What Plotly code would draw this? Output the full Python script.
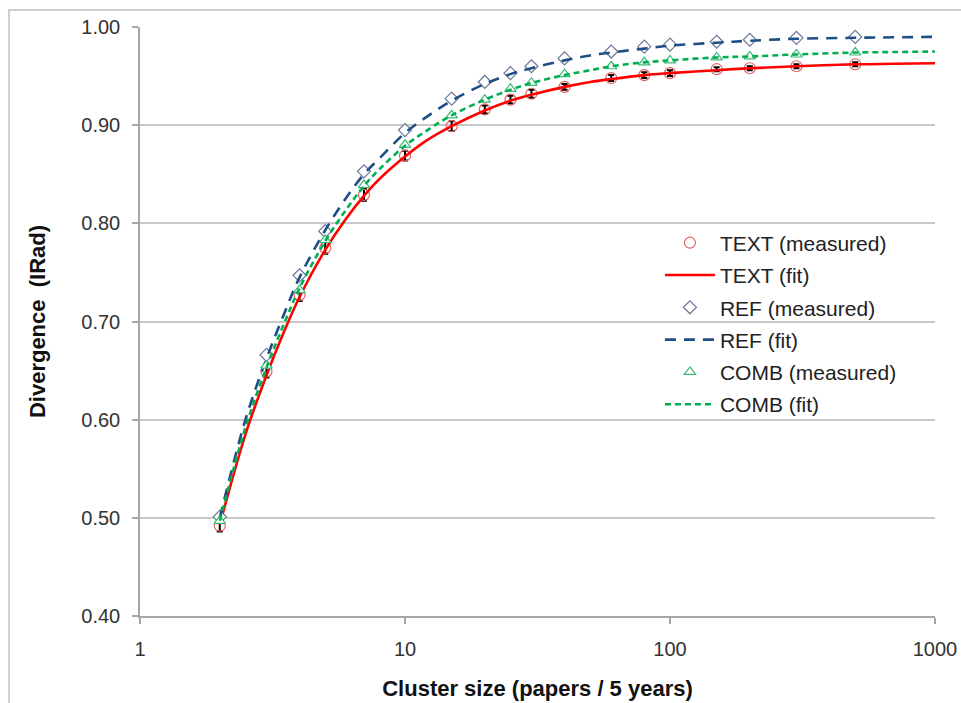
import plotly.graph_objects as go

# ---- data ----
x_measured = [2, 3, 4, 5, 7, 10, 15, 20, 25, 30, 40, 60, 80, 100, 150, 200, 300, 500]
text_measured = [0.492, 0.649, 0.727, 0.775, 0.829, 0.869, 0.899, 0.916, 0.926, 0.932,
                 0.939, 0.948, 0.951, 0.953, 0.957, 0.958, 0.960, 0.962]
text_error = [0.006, 0.006, 0.006, 0.006, 0.006, 0.005, 0.005, 0.004, 0.004, 0.004,
              0.003, 0.003, 0.003, 0.003, 0.002, 0.002, 0.002, 0.002]
ref_measured = [0.501, 0.666, 0.747, 0.792, 0.853, 0.895, 0.927, 0.944, 0.953, 0.960,
                0.968, 0.975, 0.980, 0.982, 0.985, 0.987, 0.989, 0.990]
comb_measured = [0.497, 0.655, 0.732, 0.783, 0.839, 0.880, 0.910, 0.926, 0.937, 0.943,
                 0.952, 0.960, 0.964, 0.966, 0.969, 0.970, 0.972, 0.974]

x_fit = [2, 2.5, 3, 3.5, 4, 5, 6, 7, 8, 10, 12, 15, 20, 25, 30, 40, 50, 60, 80, 100,
         150, 200, 300, 500, 700, 1000]
text_fit = [0.493, 0.585, 0.645, 0.690, 0.725, 0.773, 0.805, 0.828, 0.845, 0.868, 0.884,
            0.899, 0.915, 0.925, 0.931, 0.939, 0.944, 0.947, 0.951, 0.953, 0.956, 0.958,
            0.960, 0.962, 0.9625, 0.963]
ref_fit = [0.500, 0.600, 0.662, 0.708, 0.745, 0.793, 0.826, 0.850, 0.866, 0.892, 0.908,
           0.925, 0.942, 0.952, 0.958, 0.966, 0.971, 0.974, 0.978, 0.981, 0.984, 0.986,
           0.988, 0.989, 0.9895, 0.990]
comb_fit = [0.497, 0.592, 0.653, 0.698, 0.734, 0.782, 0.814, 0.838, 0.855, 0.879, 0.894,
            0.910, 0.926, 0.936, 0.943, 0.951, 0.956, 0.960, 0.964, 0.966, 0.969, 0.970,
            0.972, 0.974, 0.9745, 0.975]

y_ticks = [0.40, 0.50, 0.60, 0.70, 0.80, 0.90, 1.00]
x_ticks = [1, 10, 100, 1000]

FONT = "Liberation Sans, Arial, sans-serif"

fig = go.Figure()

fig.add_trace(go.Scatter(
    x=x_measured, y=text_measured, mode="markers", name="TEXT (measured)",
    legendgroup="a",
    marker=dict(symbol="circle-open", size=11, color="#e46464", line=dict(width=1.2)),
    error_y=dict(type="data", array=text_error, visible=True, color="black",
                 thickness=2, width=3),
))
fig.add_trace(go.Scatter(
    x=x_fit, y=text_fit, mode="lines", name="TEXT (fit)", legendgroup="b",
    line=dict(color="#ff0000", width=2.6, shape="spline"),
))
fig.add_trace(go.Scatter(
    x=x_measured, y=ref_measured, mode="markers", name="REF (measured)",
    legendgroup="c",
    marker=dict(symbol="diamond", size=10, color="white",
                line=dict(color="#6a7896", width=1.2)),
))
fig.add_trace(go.Scatter(
    x=x_fit, y=ref_fit, mode="lines", name="REF (fit)", legendgroup="d",
    line=dict(color="#1f4e86", width=2.6, dash="11px,8px", shape="spline"),
))
fig.add_trace(go.Scatter(
    x=x_measured, y=comb_measured, mode="markers", name="COMB (measured)",
    legendgroup="e",
    marker=dict(symbol="triangle-up", size=10, color="white",
                line=dict(color="#3cb878", width=1.2)),
))
fig.add_trace(go.Scatter(
    x=x_fit, y=comb_fit, mode="lines", name="COMB (fit)", legendgroup="f",
    line=dict(color="#00b050", width=2.6, dash="6px,4px", shape="spline"),
))

fig.update_layout(
    width=961, height=703,
    margin=dict(l=140, r=26, t=27, b=87),
    paper_bgcolor="white", plot_bgcolor="white",
    font=dict(family=FONT, size=20, color="#333333"),
    showlegend=True,
    legend=dict(
        x=0.654, y=0.668, xanchor="left", yanchor="top",
        bgcolor="rgba(0,0,0,0)", font=dict(size=21, color="#222222"),
        itemwidth=50, tracegroupgap=2,
    ),
    xaxis=dict(
        type="log", range=[0, 3], tickvals=x_ticks, ticktext=[str(v) for v in x_ticks],
        showgrid=False, showline=True, linecolor="#a6a6a6", linewidth=1.5,
        ticks="outside", ticklen=6, tickcolor="#a6a6a6", tickwidth=1.5,
        ticklabelstandoff=8, zeroline=False, automargin=False,
        title=dict(text="<b>Cluster size (papers / 5 years)</b>",
                   font=dict(size=22, color="#111111"), standoff=22),
    ),
    yaxis=dict(
        range=[0.40, 1.00], tickvals=y_ticks, ticktext=[f"{v:.2f}" for v in y_ticks],
        showgrid=True, gridcolor="#c8c8c8", gridwidth=1.5,
        showline=True, linecolor="#a6a6a6", linewidth=1.5,
        ticks="outside", ticklen=6, tickcolor="#a6a6a6", tickwidth=1.5,
        ticklabelstandoff=8, zeroline=False, automargin=False,
        title=dict(text="<b>Divergence  (IRad)</b>",
                   font=dict(size=22, color="#111111"), standoff=30),
    ),
    shapes=[dict(type="rect", xref="paper", yref="paper",
                 x0=-0.1648, x1=1.05, y0=-0.17, y1=1.0289,
                 line=dict(color="#cfcfcf", width=2), layer="below")],
)

fig.write_html("out.html")
